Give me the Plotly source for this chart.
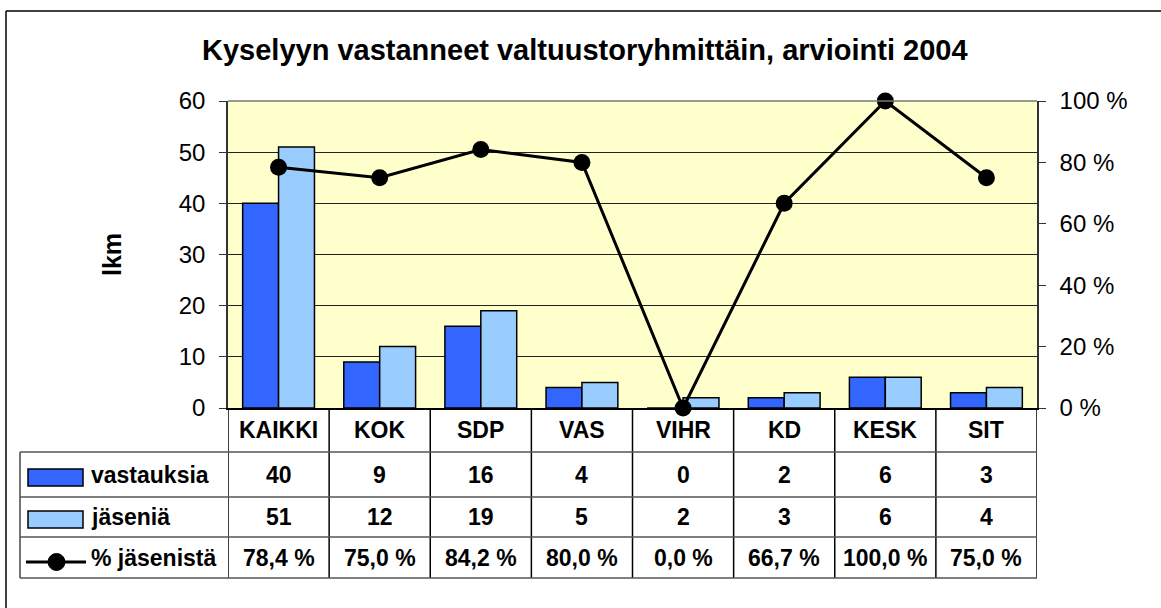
import plotly.graph_objects as go

# data
categories = ["KAIKKI", "KOK", "SDP", "VAS", "VIHR", "KD", "KESK", "SIT"]
vastauksia = [40, 9, 16, 4, 0, 2, 6, 3]
jasenia = [51, 12, 19, 5, 2, 3, 6, 4]
pct_jasenista = [78.4, 75.0, 84.2, 80.0, 0.0, 66.7, 100.0, 75.0]
series_names = ["vastauksia", "jäseniä", "% jäsenistä"]
title_text = "Kyselyyn vastanneet valtuustoryhmittäin, arviointi 2004"
y_title = "lkm"
pct_ticks = [0, 20, 40, 60, 80, 100]
pct_ticktext = ["0 %", "20 %", "40 %", "60 %", "80 %", "100 %"]

DARK = "#3366FF"
LIGHT = "#99CCFF"
FONT = "Liberation Sans, Arial, sans-serif"

W, H = 1161, 608
L, R, T, B = 228, 1037, 101, 408  # plot area in px


def px(x):
    return (x - L) / (R - L)


def py(y):
    return (B - y) / (B - T)


def fmt_pct(v):
    return ("%.1f" % v).replace(".", ",") + " %"


fig = go.Figure()
fig.add_trace(go.Bar(x=categories, y=vastauksia, name=series_names[0],
                     marker=dict(color=DARK, line=dict(color="black", width=1.5))))
fig.add_trace(go.Bar(x=categories, y=jasenia, name=series_names[1],
                     marker=dict(color=LIGHT, line=dict(color="black", width=1.5))))
fig.add_trace(go.Scatter(x=categories, y=pct_jasenista, name=series_names[2], yaxis="y2",
                         mode="lines+markers", cliponaxis=False,
                         line=dict(color="black", width=3),
                         marker=dict(color="black", size=17)))

fig.update_layout(
    width=W, height=H,
    margin=dict(l=L, r=W - R, t=T, b=H - B),
    paper_bgcolor="white", plot_bgcolor="#FFFFCC",
    font=dict(family=FONT, color="black"),
    showlegend=False,
    barmode="group", bargap=0.29, bargroupgap=0,
    xaxis=dict(range=[-0.5, 7.5], showticklabels=False, ticks="",
               showline=True, linecolor="black", linewidth=1.5, showgrid=False),
    yaxis=dict(range=[0, 60], dtick=10, ticks="outside", ticklen=7, tickcolor="#333",
               ticklabelstandoff=9,
               showline=True, linecolor="#333", linewidth=1.5,
               showgrid=True, gridcolor="#222", gridwidth=1,
               tickfont=dict(size=24), zeroline=False),
    yaxis2=dict(range=[0, 100], overlaying="y", side="right",
                tickvals=pct_ticks, ticktext=pct_ticktext,
                ticks="outside", ticklen=7, tickcolor="#333",
                ticklabelstandoff=9,
                showline=True, linecolor="#333", linewidth=1.5,
                showgrid=False, zeroline=False, tickfont=dict(size=24)),
)

shapes = []
# outer chart border: only the top and left edges fall inside the picture
shapes.append(dict(type="line", xref="paper", yref="paper",
                   x0=px(6), x1=px(W), y0=py(11), y1=py(11),
                   line=dict(color="black", width=1.5)))
shapes.append(dict(type="line", xref="paper", yref="paper",
                   x0=px(6), x1=px(6), y0=py(11), y1=py(H),
                   line=dict(color="black", width=1.5)))
# plot area top border
shapes.append(dict(type="line", xref="paper", yref="paper",
                   x0=0, x1=1, y0=1, y1=1, line=dict(color="#777", width=1.5)))

# data table
rows = [408, 452, 497, 537, 578]
table_left = 20
for i in range(len(categories) + 1):
    shapes.append(dict(type="line", xref="x", yref="paper",
                       x0=i - 0.5, x1=i - 0.5, y0=py(rows[0]), y1=py(rows[-1]),
                       line=dict(color="black", width=1.5)))
shapes.append(dict(type="line", xref="paper", yref="paper",
                   x0=px(table_left), x1=px(table_left), y0=py(rows[1]), y1=py(rows[-1]),
                   line=dict(color="#444", width=1.5)))
for y in rows[1:]:
    shapes.append(dict(type="line", xref="paper", yref="paper",
                       x0=px(table_left), x1=1, y0=py(y), y1=py(y),
                       line=dict(color="#555", width=1.5)))

# legend keys inside the table
key_x0, key_x1 = 28, 83
shapes.append(dict(type="rect", xref="paper", yref="paper",
                   x0=px(key_x0), x1=px(key_x1), y0=py(486), y1=py(469),
                   fillcolor=DARK, line=dict(color="black", width=1.5)))
shapes.append(dict(type="rect", xref="paper", yref="paper",
                   x0=px(key_x0), x1=px(key_x1), y0=py(528), y1=py(511),
                   fillcolor=LIGHT, line=dict(color="black", width=1.5)))
shapes.append(dict(type="line", xref="paper", yref="paper",
                   x0=px(26), x1=px(86), y0=py(562), y1=py(562),
                   line=dict(color="black", width=3)))
shapes.append(dict(type="circle", xref="paper", yref="paper",
                   x0=px(48), x1=px(65), y0=py(570.5), y1=py(553.5),
                   fillcolor="black", line=dict(color="black", width=1)))

annotations = []
annotations.append(dict(text="<b>%s</b>" % title_text, xref="paper", yref="paper",
                        x=px(585), y=py(50), showarrow=False,
                        font=dict(size=29), xanchor="center", yanchor="middle"))
annotations.append(dict(text="<b>%s</b>" % y_title, xref="paper", yref="paper",
                        x=px(112), y=py(255), showarrow=False, textangle=-90,
                        font=dict(size=25), xanchor="center", yanchor="middle"))

row_mid = [(rows[i] + rows[i + 1]) / 2 for i in range(4)]
row_values = [
    categories,
    [str(v) for v in vastauksia],
    [str(v) for v in jasenia],
    [fmt_pct(v) for v in pct_jasenista],
]
for r, vals in enumerate(row_values):
    for c, txt in zip(categories, vals):
        annotations.append(dict(text="<b>%s</b>" % txt, xref="x", yref="paper",
                                x=c, y=py(row_mid[r]), showarrow=False,
                                font=dict(size=23), xanchor="center", yanchor="middle"))
for r, name in enumerate(series_names):
    annotations.append(dict(text="<b>%s</b>" % name, xref="paper", yref="paper",
                            x=px(89), y=py(row_mid[r + 1]), showarrow=False,
                            font=dict(size=23), xanchor="left", yanchor="middle"))

fig.update_layout(shapes=shapes, annotations=annotations)
# drop the default page margin so the figure sits at the window's top-left corner
fig.write_html("out.html", config={"displayModeBar": False},
               post_script="document.body.style.margin='0';document.body.style.overflow='hidden';")
